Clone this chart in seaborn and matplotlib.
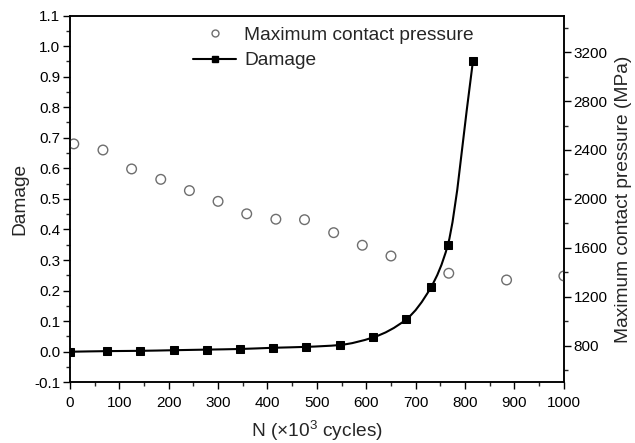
import matplotlib
matplotlib.use("Agg")
import matplotlib.pyplot as plt
from matplotlib.ticker import MultipleLocator
from matplotlib.lines import Line2D
from matplotlib.path import Path
from matplotlib.patches import PathPatch
import seaborn as sns
import pandas as pd

# Damage evolution (left axis)
damage_cycles = [0, 75, 143, 210, 278, 344, 412, 479, 546, 614, 681, 731, 765, 816]
damage_values = [0.0, 0.002, 0.003, 0.005, 0.007, 0.009, 0.013, 0.016,
                 0.022, 0.047, 0.106, 0.211, 0.349, 0.952]

# Maximum contact pressure (right axis, MPa)
pressure_cycles = [8, 67, 125, 184, 242, 300, 358, 417, 475, 534, 592, 650,
                   767, 884, 1000]
pressure_values = [2450, 2400, 2245, 2160, 2068, 1980, 1878, 1834, 1830,
                   1724, 1621, 1533, 1392, 1337, 1370]

damage_df = pd.DataFrame({"N": damage_cycles, "Damage": damage_values})
pressure_df = pd.DataFrame({"N": pressure_cycles, "Pressure": pressure_values})


def smooth_path(xs, ys):
    """Monotone cubic (Fritsch-Carlson) curve through the points as Bezier segments."""
    n = len(xs)
    h = [xs[i + 1] - xs[i] for i in range(n - 1)]
    d = [(ys[i + 1] - ys[i]) / h[i] for i in range(n - 1)]
    m = [d[0]] + [0.0] * (n - 2) + [d[-1]]
    for i in range(1, n - 1):
        if d[i - 1] * d[i] <= 0:
            m[i] = 0.0
        else:
            w1 = 2 * h[i] + h[i - 1]
            w2 = h[i] + 2 * h[i - 1]
            m[i] = (w1 + w2) / (w1 / d[i - 1] + w2 / d[i])
    verts = [(xs[0], ys[0])]
    codes = [Path.MOVETO]
    for i in range(n - 1):
        verts += [(xs[i] + h[i] / 3, ys[i] + m[i] * h[i] / 3),
                  (xs[i + 1] - h[i] / 3, ys[i + 1] - m[i + 1] * h[i] / 3),
                  (xs[i + 1], ys[i + 1])]
        codes += [Path.CURVE4] * 3
    return Path(verts, codes)


sns.set_theme(style="ticks")
plt.rcParams["font.family"] = ["Liberation Sans", "DejaVu Sans"]
plt.rcParams["mathtext.fontset"] = "custom"
plt.rcParams["mathtext.rm"] = "Liberation Sans"
plt.rcParams["axes.linewidth"] = 1.1

fig = plt.figure(figsize=(6.35, 4.43), dpi=100)
ax = fig.add_axes([0.110, 0.137, 0.778, 0.828])
ax2 = ax.twinx()

# smooth damage curve, then the square markers on top
ax.add_patch(PathPatch(smooth_path(damage_cycles, damage_values),
                       facecolor="none", edgecolor="black", linewidth=1.5,
                       zorder=3))
sns.lineplot(data=damage_df, x="N", y="Damage", ax=ax, color="black",
             linestyle="none", marker="s", markersize=6,
             markeredgecolor="black", markerfacecolor="black", zorder=4)

sns.scatterplot(data=pressure_df, x="N", y="Pressure", ax=ax2, marker="o",
                s=48, facecolor="none", edgecolor="#6e6e6e", linewidth=1.0,
                zorder=2)

ax.set_xlim(0, 1000)
ax.set_ylim(-0.1, 1.1)
ax2.set_ylim(500, 3500)

ax.xaxis.set_major_locator(MultipleLocator(100))
ax.xaxis.set_minor_locator(MultipleLocator(50))
ax.yaxis.set_major_locator(MultipleLocator(0.1))
ax.yaxis.set_minor_locator(MultipleLocator(0.05))
ax.yaxis.set_major_formatter(plt.FuncFormatter(lambda v, p: f"{v:.1f}"))
ax2.set_yticks([800, 1200, 1600, 2000, 2400, 2800, 3200])
ax2.set_yticks(list(range(600, 3500, 400)), minor=True)

for a in (ax, ax2):
    a.tick_params(which="major", direction="out", length=5, width=1.0,
                  labelsize=11, colors="black", pad=2)
    a.tick_params(which="minor", direction="out", length=3, width=1.0)
ax.tick_params(axis="x", which="both", top=False, pad=5)
for s in list(ax.spines.values()) + list(ax2.spines.values()):
    s.set_color("black")

ax.set_xlabel("N (×10$^{3}$ cycles)", fontsize=13.8, labelpad=6)
ax.set_ylabel("Damage", fontsize=13.8, labelpad=4)
ax2.set_ylabel("Maximum contact pressure (MPa)", fontsize=13.8, labelpad=5)

handles = [
    Line2D([], [], linestyle="none", marker="o", markersize=5,
           markerfacecolor="none", markeredgecolor="#6e6e6e"),
    Line2D([], [], color="black", linewidth=1.5, marker="s", markersize=4.5),
]
ax.legend(handles, ["Maximum contact pressure", "Damage"], loc="upper left",
          bbox_to_anchor=(0.249, 0.971), frameon=False, fontsize=13.8,
          handlelength=2.27, handletextpad=0.4, borderpad=0, borderaxespad=0,
          labelspacing=0.43)

fig.savefig("out.png", dpi=100)
